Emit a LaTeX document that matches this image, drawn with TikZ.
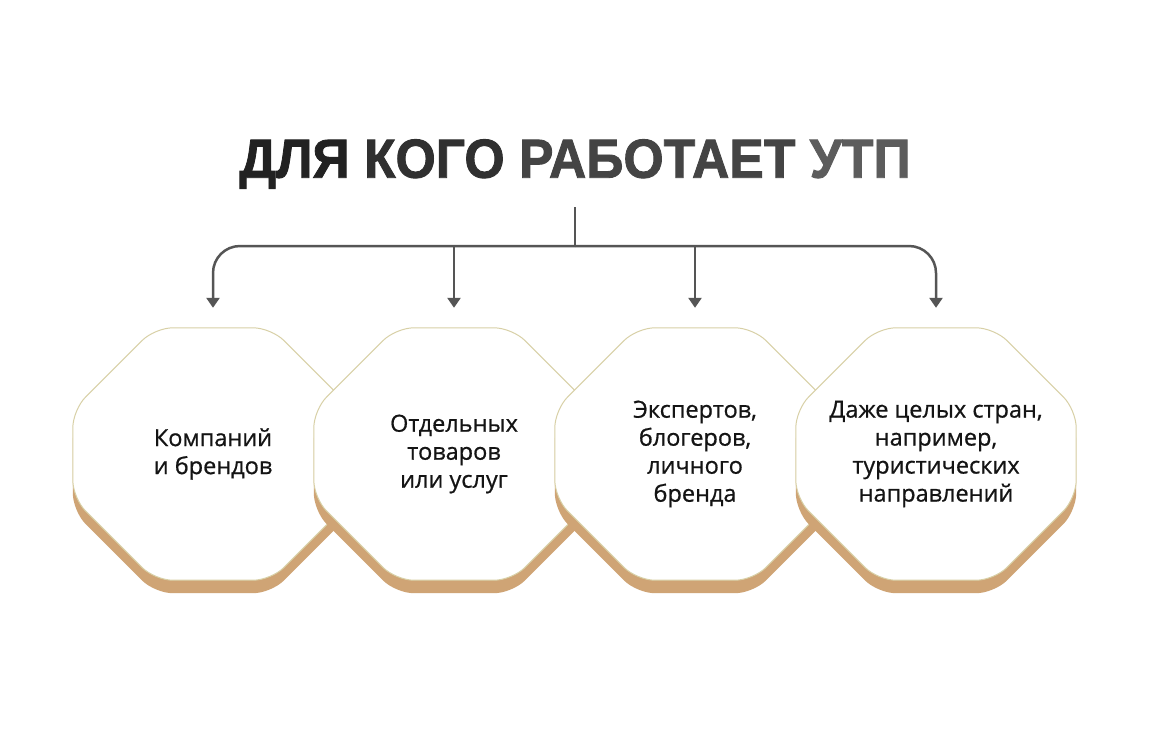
\documentclass[tikz,border=0pt]{standalone}
\usepackage{fontspec}
\setmainfont{Open Sans}[BoldFont={Open Sans},BoldFeatures={FakeBold=0.7}]
\newfontfamily\headfont{Liberation Sans}[BoldFeatures={FakeBold=1.6}]
\usetikzlibrary{
  arrows.meta,
  backgrounds,
  calc,
  positioning,
}
\definecolor{tan}{HTML}{CFA475}
\definecolor{rim}{HTML}{D8D0A6}
\definecolor{wire}{HTML}{555555}
\definecolor{inkA}{HTML}{222222}
\definecolor{inkB}{HTML}{303030}
\definecolor{inkC}{HTML}{444444}
\definecolor{inkD}{HTML}{5C5C5C}
\tikzset{
  >={Triangle[width=13pt,length=10pt]},
  flow/.style={draw=wire,line width=2.5pt},
  headline/.style={font=\headfont\bfseries\fontsize{55}{55}\selectfont,inner sep=0pt},
  boxtext/.style={
    align=center,
    font=\bfseries\fontsize{23.5}{28}\selectfont,
    text=black!92,
    minimum width=280pt,
    minimum height=252pt,
    inner sep=0pt
  },
}
% octagon round a box node: #1 node, #2 drop, #3 style
\newcommand\octagon[3]{%
  \path[#3,rounded corners=18pt]
    ($(#1.north west)+(82,#2)$) -- ($(#1.north east)+(-82,#2)$)
    -- ($(#1.north east)+(0,82+#2)$) -- ($(#1.south east)+(0,-82+#2)$)
    -- ($(#1.south east)+(-82,#2)$) -- ($(#1.south west)+(82,#2)$)
    -- ($(#1.south west)+(0,-82+#2)$) -- ($(#1.north west)+(0,82+#2)$)
    -- cycle;
}

\begin{document}
\begin{tikzpicture}[x=1pt,y=-1pt]
  \useasboundingbox (0,0) rectangle (1150,740);
  \begin{pgfonlayer}{background}
    \fill[white] (0,0) rectangle (1150,740);
  \end{pgfonlayer}

  \node[headline] (title) at (575,164)
    {\scalebox{0.94}[1]{\color{inkA}ДЛЯ \color{inkB}КОГО \color{inkC}РАБОТАЕТ \color{inkD}УТП}};

  \foreach \i/\txt in {
      1/{Компаний\\и брендов},
      2/{Отдельных\\товаров\\или услуг},
      3/{Экспертов,\\блогеров,\\личного\\бренда},
      4/{Даже целых стран,\\например,\\туристических\\направлений}} {
    \node[boxtext] (box\i) at ({213+241*(\i-1)},454) {\txt};
    \begin{pgfonlayer}{background}
      \octagon{box\i}{13}{fill=tan}
      \octagon{box\i}{0}{fill=white,draw=rim,line width=1pt}
    \end{pgfonlayer}
  }

  \coordinate (stem) at (575,207);
  \coordinate (hub) at (575,246);
  \draw[flow] (stem) -- (hub);
  \draw[flow,->,rounded corners=27pt,shorten >=20pt] (hub) -| (box1.north);
  \draw[flow,->,rounded corners=27pt,shorten >=20pt] (hub) -| (box4.north);
  \draw[flow,->,shorten >=20pt] (box2.north |- hub) -- (box2.north);
  \draw[flow,->,shorten >=20pt] (box3.north |- hub) -- (box3.north);
\end{tikzpicture}
\end{document}
